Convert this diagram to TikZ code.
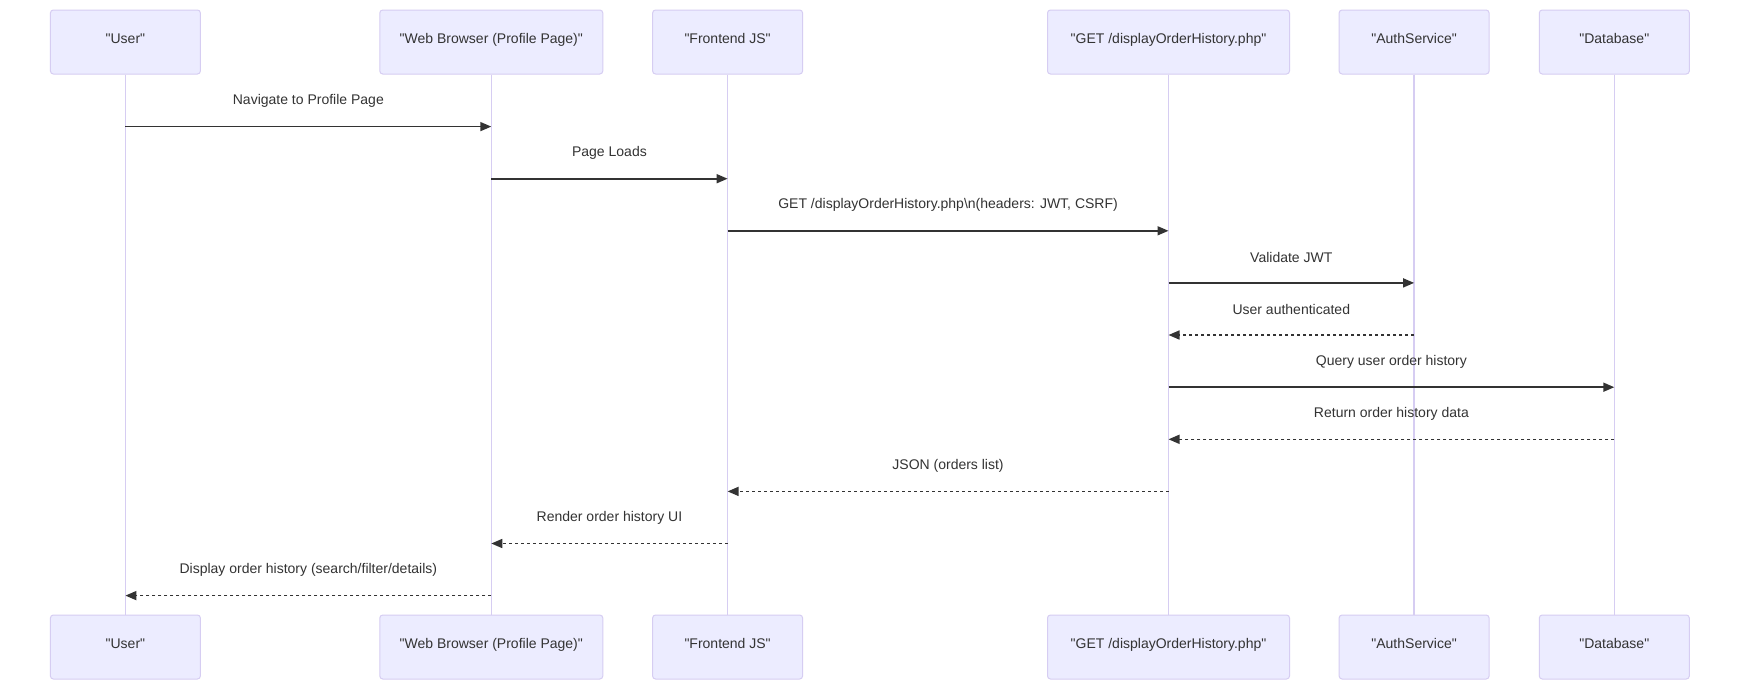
\documentclass[tikz,border=0pt]{standalone}
\usepackage{fontspec}
\setmainfont{Liberation Sans}
\usetikzlibrary{arrows.meta}
\definecolor{actorfill}{HTML}{ECECFF}
\definecolor{actorline}{HTML}{D6CDF2}
\definecolor{ink}{HTML}{333333}
\newcommand{\qq}[1]{\textquotedbl#1\textquotedbl}
\begin{document}
\begin{tikzpicture}[x=1pt,y=-1pt,
  actor/.style={draw=actorline, fill=actorfill, rounded corners=3pt,
    line width=1pt, minimum height=64pt, text=ink,
    text height=10.5pt, text depth=7.1pt,
    font=\fontsize{14}{16}\selectfont},
  lifeline/.style={draw=actorline, line width=1.5pt},
  msg/.style={draw=ink, line width=1.6pt,
    -{Triangle[length=11pt,width=9pt]}},
  reply/.style={msg, dash pattern=on 3pt off 3pt},
  lbl/.style={text=ink, font=\fontsize{14}{16}\selectfont,
    midway, yshift=25.6pt, inner sep=0pt}]
\useasboundingbox (0,0) rectangle (1740,691);
\fill[white] (0,0) rectangle (1740,691);

% participants, top row
\node[actor, minimum width=150pt] (u)  at (125.4,42) {\qq{User}};
\node[actor, minimum width=223pt] (w)  at (491.3,42) {\qq{Web Browser (Profile Page)}};
\node[actor, minimum width=150pt] (f)  at (727.6,42) {\qq{Frontend JS}};
\node[actor, minimum width=242pt] (g)  at (1168.5,42) {\qq{GET /displayOrderHistory.php}};
\node[actor, minimum width=150pt] (a)  at (1414.1,42) {\qq{AuthService}};
\node[actor, minimum width=150pt] (d)  at (1614.3,42) {\qq{Database}};

% participants, bottom row
\node[actor, minimum width=150pt] (u2) at (125.4,647) {\qq{User}};
\node[actor, minimum width=223pt] (w2) at (491.3,647) {\qq{Web Browser (Profile Page)}};
\node[actor, minimum width=150pt] (f2) at (727.6,647) {\qq{Frontend JS}};
\node[actor, minimum width=242pt] (g2) at (1168.5,647) {\qq{GET /displayOrderHistory.php}};
\node[actor, minimum width=150pt] (a2) at (1414.1,647) {\qq{AuthService}};
\node[actor, minimum width=150pt] (d2) at (1614.3,647) {\qq{Database}};

% lifelines
\foreach \p in {u,w,f,g,a,d}
  \draw[lifeline] (\p.south) -- (\p2.north);

% message rows
\coordinate (r1)  at (0,126.6);
\coordinate (r2)  at (0,178.7);
\coordinate (r3)  at (0,230.8);
\coordinate (r4)  at (0,282.9);
\coordinate (r5)  at (0,335.0);
\coordinate (r6)  at (0,387.2);
\coordinate (r7)  at (0,439.3);
\coordinate (r8)  at (0,491.4);
\coordinate (r9)  at (0,543.5);
\coordinate (r10) at (0,595.6);

% messages
\draw[msg]   (u |- r1)  -- node[lbl] {Navigate to Profile Page} (w |- r1);
\draw[msg]   (w |- r2)  -- node[lbl] {Page Loads} (f |- r2);
\draw[msg]   (f |- r3)  -- node[lbl] {GET /displayOrderHistory.php\textbackslash n(headers: JWT, CSRF)} (g |- r3);
\draw[msg]   (g |- r4)  -- node[lbl] {Validate JWT} (a |- r4);
\draw[reply] (a |- r5)  -- node[lbl] {User authenticated} (g |- r5);
\draw[msg]   (g |- r6)  -- node[lbl] {Query user order history} (d |- r6);
\draw[reply] (d |- r7)  -- node[lbl] {Return order history data} (g |- r7);
\draw[reply] (g |- r8)  -- node[lbl] {JSON (orders list)} (f |- r8);
\draw[reply] (f |- r9)  -- node[lbl] {Render order history UI} (w |- r9);
\draw[reply] (w |- r10) -- node[lbl] {Display order history (search/filter/details)} (u |- r10);
\end{tikzpicture}
\end{document}
